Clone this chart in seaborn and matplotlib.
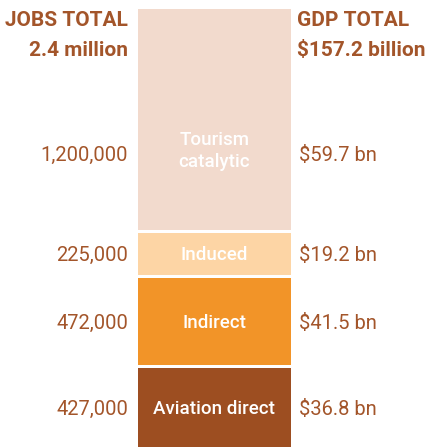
import matplotlib
matplotlib.use("Agg")
import matplotlib.pyplot as plt
import seaborn as sns
import numpy as np

# ---- data ----
categories = ["Aviation direct", "Indirect", "Induced", "Tourism\ncatalytic"]
jobs = [427000, 472000, 225000, 1200000]
gdp_bn = [36.8, 41.5, 19.2, 59.7]
jobs_total_label = "2.4 million"
gdp_total_label = "$157.2 billion"

colors = ["#9D4E21", "#F29428", "#FDD5A5", "#F2DACD"]
text_color = "#A3552A"

sns.set_theme(style="white")
plt.rcParams["font.family"] = ["Roboto", "DejaVu Sans"]

W, H = 425, 447
fig = plt.figure(figsize=(W / 100, H / 100), dpi=100)
ax = fig.add_axes([0, 0, 1, 1])

# layout in pixels
bar_left, bar_right = 138, 291
top_px = 9
gap_px = 3.5
vals_k = np.array(jobs) / 1000.0
scale = (H - top_px - gap_px * (len(jobs) - 1)) / vals_k.sum()  # px per thousand
gap = gap_px / scale
ytop = H / scale

bottoms = np.concatenate([[0], np.cumsum(vals_k)[:-1]]) + np.arange(len(jobs)) * gap

for cat, v, b, c in zip(categories, vals_k, bottoms, colors):
    sns.barplot(x=["bar"], y=[v], bottom=b, width=1.0, color=c,
                saturation=1, ax=ax, linewidth=0)

bw = bar_right - bar_left
ax.set_xlim(-0.5 - bar_left / bw, 0.5 + (W - bar_right) / bw)
ax.set_ylim(0, ytop)
ax.axis("off")

def fy(py):
    return 1 - py / H

# segment labels
for i, (cat, v, b) in enumerate(zip(categories, vals_k, bottoms)):
    yc = b + v / 2 - 1.5 / scale
    if i == 3:
        yc = b + v * 0.335
        ax.text(0, b + v * 0.355, cat, ha="center", va="center", color="white",
                fontsize=13.5, fontweight="medium", linespacing=1.3)
    else:
        ax.text(0, yc, cat, ha="center", va="center", color="white",
                fontsize=13.5, fontweight="medium")
    ax.text(-0.5 - 10 / bw, yc, f"{jobs[i]:,}", ha="right", va="center",
            color=text_color, fontsize=14.5)
    ax.text(0.5 + 8 / bw, yc, f"${gdp_bn[i]} bn", ha="left", va="center",
            color=text_color, fontsize=14.5)

# headers
hdr = dict(color=text_color, fontsize=15, fontweight="bold")
fig.text(128 / W, fy(21), "JOBS TOTAL", ha="right", va="center", **hdr)
fig.text(128 / W, fy(50), jobs_total_label, ha="right", va="center", **hdr)
fig.text(297 / W, fy(21), "GDP TOTAL", ha="left", va="center", **hdr)
fig.text(297 / W, fy(50), gdp_total_label, ha="left", va="center", **hdr)

fig.savefig("out.png", dpi=100, facecolor="white")
